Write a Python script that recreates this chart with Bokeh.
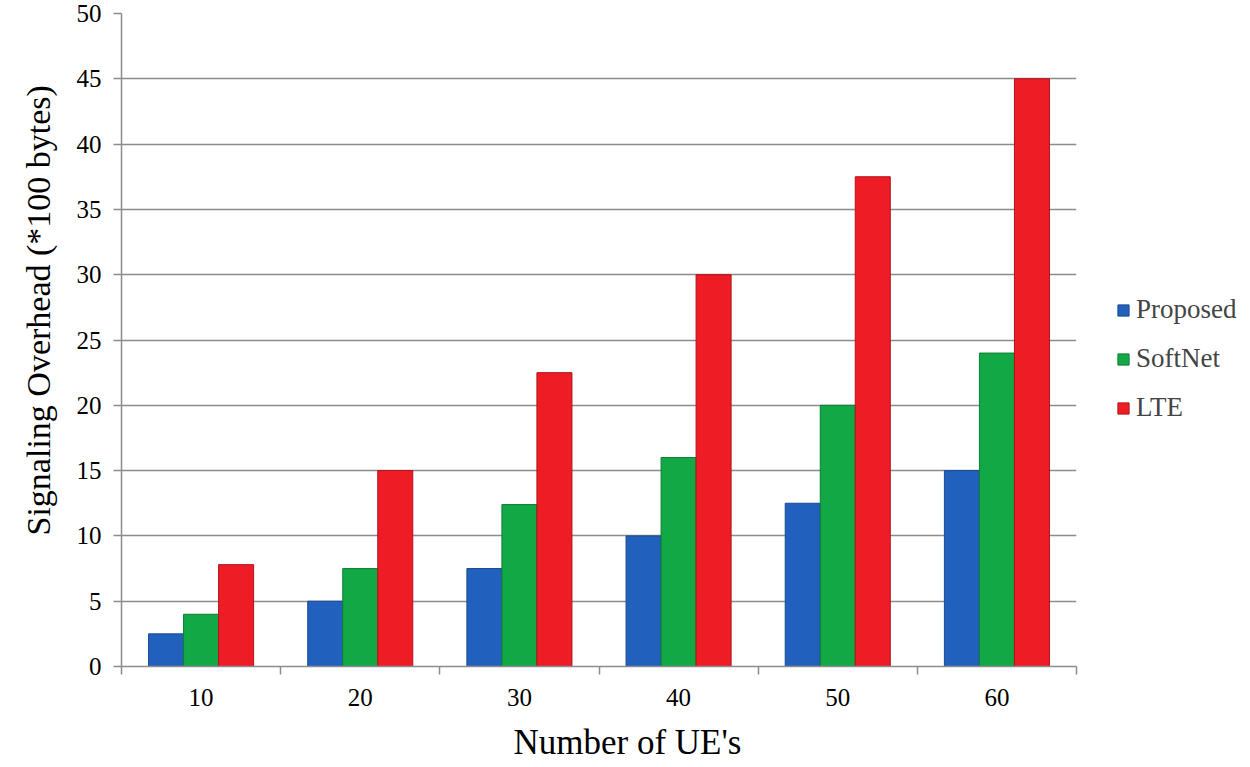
from bokeh.plotting import figure
from bokeh.models import ColumnDataSource, Range1d, FixedTicker, Legend, LegendItem, Title
from bokeh.transform import dodge
from bokeh.embed import file_html
from bokeh.resources import INLINE

categories = ["10", "20", "30", "40", "50", "60"]
proposed = [2.5, 5, 7.5, 10, 12.5, 15]
softnet = [4, 7.5, 12.4, 16, 20, 24]
lte = [7.8, 15, 22.5, 30, 37.5, 45]
y_ticks = list(range(0, 51, 5))

pos = [i + 0.5 for i in range(len(categories))]
src = ColumnDataSource(dict(x=pos, proposed=proposed, softnet=softnet, lte=lte))

FONT = "Liberation Serif"

p = figure(frame_width=955, frame_height=653, output_backend="svg", toolbar_location=None,
           x_range=Range1d(0, len(categories)), y_range=Range1d(0, 50),
           min_border_left=120, min_border_right=160, min_border_top=13, min_border_bottom=92)

w = 0.22
r1 = p.vbar(x=dodge("x", -w, range=p.x_range), top="proposed", width=w, source=src,
            fill_color="#2160BC", line_color="#1A4A90", line_width=1)
r2 = p.vbar(x=dodge("x", 0, range=p.x_range), top="softnet", width=w, source=src,
            fill_color="#12A845", line_color="#0E7E35", line_width=1)
r3 = p.vbar(x=dodge("x", w, range=p.x_range), top="lte", width=w, source=src,
            fill_color="#EE1C25", line_color="#B01218", line_width=1)

p.outline_line_color = None
p.background_fill_color = "white"
p.border_fill_color = "white"

p.xgrid.visible = False
p.ygrid.ticker = FixedTicker(ticks=y_ticks)
p.ygrid.grid_line_color = "#8C8C8C"
p.ygrid.grid_line_width = 1.5

xa = p.xaxis[0]
xa.ticker = FixedTicker(ticks=pos, minor_ticks=list(range(len(categories) + 1)))
xa.major_label_overrides = {v: c for v, c in zip(pos, categories)}
xa.major_tick_out = 0
xa.major_tick_in = 0
xa.minor_tick_out = 8
xa.minor_tick_in = 0
xa.minor_tick_line_color = "#8C8C8C"
xa.minor_tick_line_width = 1.5
xa.axis_line_color = "#8C8C8C"
xa.axis_line_width = 1.5
xa.major_label_text_font = FONT
xa.major_label_text_font_size = "25px"
xa.major_label_text_color = "black"
xa.major_label_standoff = 14

ya = p.yaxis[0]
ya.ticker = FixedTicker(ticks=y_ticks)
ya.minor_tick_line_color = None
ya.major_tick_out = 8
ya.major_tick_in = 0
ya.major_tick_line_color = "#8C8C8C"
ya.major_tick_line_width = 1.5
ya.axis_line_color = "#8C8C8C"
ya.axis_line_width = 1.5
ya.major_label_text_font = FONT
ya.major_label_text_font_size = "25px"
ya.major_label_text_color = "black"
ya.major_label_standoff = 12

xtitle = Title(text="Number of UE's", align="left", offset=392,
               text_font=FONT, text_font_size="35px", text_font_style="normal",
               text_color="black", standoff=24)
p.add_layout(xtitle, "below")

ytitle = Title(text="Signaling Overhead (*100 bytes)", align="left", offset=131,
               text_font=FONT, text_font_size="34px", text_font_style="normal",
               text_color="black", standoff=34, text_line_height=0.8)
p.add_layout(ytitle, "left")

legend = Legend(items=[LegendItem(label="Proposed", renderers=[r1]),
                       LegendItem(label="SoftNet", renderers=[r2]),
                       LegendItem(label="LTE", renderers=[r3])],
                location=(40, 243), orientation="vertical",
                border_line_color=None, background_fill_alpha=0,
                label_text_font=FONT, label_text_font_size="27px",
                glyph_width=14, glyph_height=14, label_height=30,
                spacing=18, padding=0, margin=0, label_standoff=6)
p.add_layout(legend, "right")

open("out.html", "w").write(file_html(p, INLINE))
